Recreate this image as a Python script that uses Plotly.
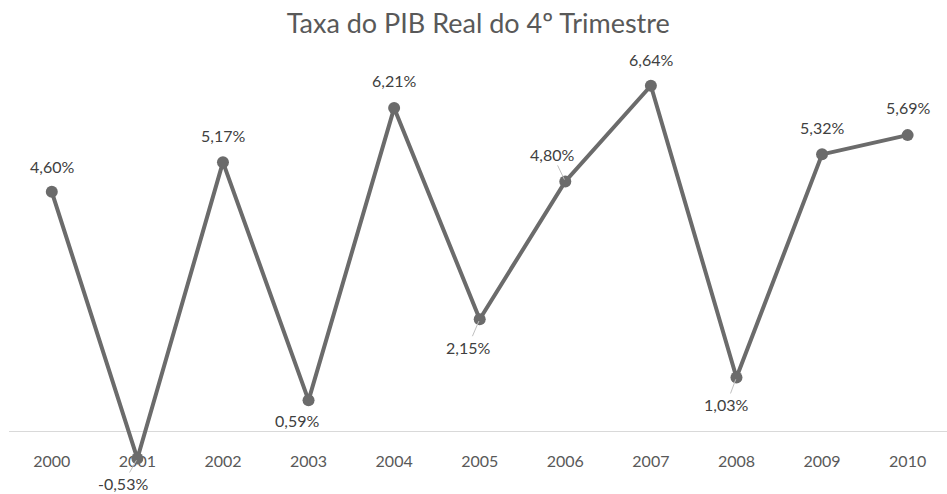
import plotly.graph_objects as go

# Quarterly (Q4) real GDP growth rate, %
anos = ["2000", "2001", "2002", "2003", "2004", "2005", "2006", "2007", "2008", "2009", "2010"]
taxas = [4.60, -0.53, 5.17, 0.59, 6.21, 2.15, 4.80, 6.64, 1.03, 5.32, 5.69]

# label offsets in pixels (dx, dy) and whether a leader line is drawn
rotulo_dx = [0, -14, 0, -12, 0, -12, -13, 0, -10, 0, 0]
rotulo_dy = [-25, 25, -27, 20, -28, 28, -27, -26, 27, -27, -28]
com_guia = [False, True, False, False, False, True, True, False, True, False, False]

FONTE = "Lato"
COR_LINHA = "#6b6b6b"

x_idx = list(range(len(anos)))

fig = go.Figure()
fig.add_trace(go.Scatter(
    x=x_idx, y=taxas, mode="lines+markers",
    line=dict(color=COR_LINHA, width=4),
    marker=dict(color=COR_LINHA, size=12),
    hoverinfo="skip", showlegend=False,
))

anots = []
for xi, v, dx, dy, guia in zip(x_idx, taxas, rotulo_dx, rotulo_dy, com_guia):
    txt = f"{v:.2f}".replace(".", ",") + "%"
    if guia:
        anots.append(dict(
            x=xi, y=v, xref="x", yref="y", text=txt,
            showarrow=True, ax=dx, ay=dy, arrowhead=0, arrowwidth=1,
            arrowcolor="#bfbfbf", standoff=2, startstandoff=0,
            font=dict(family=FONTE, size=16, color="#404040"),
        ))
    else:
        anots.append(dict(
            x=xi, y=v, xref="x", yref="y", text=txt,
            showarrow=False, xshift=dx, yshift=-dy,
            font=dict(family=FONTE, size=16, color="#404040"),
        ))

fig.update_layout(
    width=947, height=494,
    margin=dict(l=9, r=0, t=67, b=11),
    paper_bgcolor="white", plot_bgcolor="white",
    title=dict(
        text="Taxa do PIB Real do 4º Trimestre",
        x=0.505, xanchor="center", y=0.953, yanchor="middle",
        font=dict(family=FONTE, size=27, color="#595959"),
    ),
    annotations=anots,
    xaxis=dict(
        range=[-0.5, 10.46],
        tickmode="array", tickvals=x_idx, ticktext=anos,
        anchor="free", position=0.125,
        showline=True, linecolor="#d9d9d9", linewidth=1,
        ticks="outside", ticklen=16, tickcolor="rgba(0,0,0,0)",
        showgrid=False, zeroline=False,
        tickfont=dict(family=FONTE, size=16, color="#595959"),
        layer="below traces",
    ),
    yaxis=dict(
        range=[-1, 7], visible=False, showgrid=False, zeroline=False,
    ),
)

fig.write_html("out.html")
